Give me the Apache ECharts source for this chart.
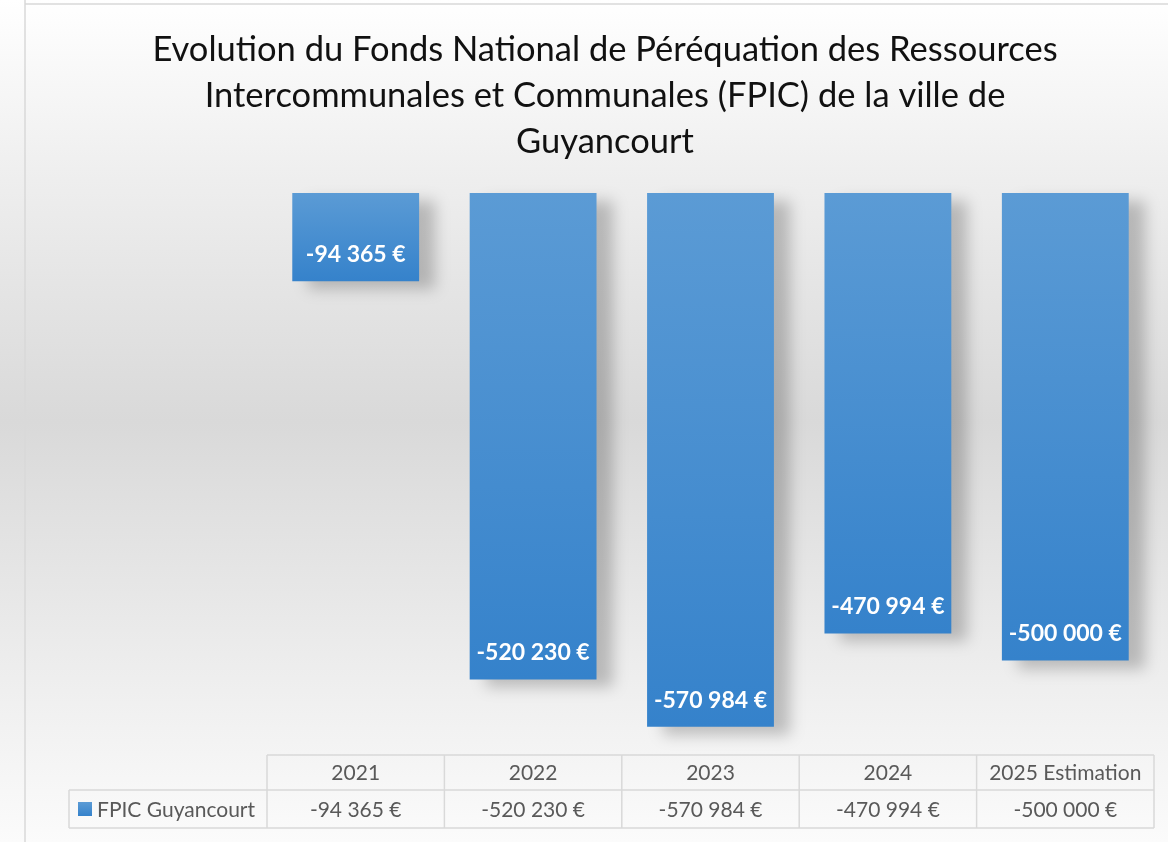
<!DOCTYPE html>
<html><head><meta charset="utf-8">
<style>html,body{margin:0;padding:0;background:#fff;}#c{width:1168px;height:842px;}</style>
<script src="https://cdn.jsdelivr.net/npm/echarts@6/dist/echarts.min.js"></script>
</head><body><div id="c"></div>
<script>
const categories = ['2021', '2022', '2023', '2024', '2025 Estimation'];
const values = [-94365, -520230, -570984, -470994, -500000];
const seriesName = 'FPIC Guyancourt';
const titleText = 'Evolution du Fonds National de Péréquation des Ressources\nIntercommunales et Communales (FPIC) de la ville de\nGuyancourt';

function fmt(v){ return String(v).replace(/\B(?=(\d{3})+(?!\d))/g, ' ') + ' €'; }

const chart = echarts.init(document.getElementById('c'));
const barGrad = new echarts.graphic.LinearGradient(0,0,0,1,[{offset:0,color:'#5b9bd5'},{offset:1,color:'#3582cb'}]);
chart.setOption({
  animation:false,
  backgroundColor: new echarts.graphic.LinearGradient(0,0,0,1,[
    {offset:0,color:'#ffffff'},{offset:0.2,color:'#efefef'},{offset:0.5,color:'#d9d9d9'},{offset:0.85,color:'#f1f1f1'},{offset:1,color:'#fbfbfb'}]),
  title:{text:titleText,left:600,top:22,textAlign:'center',
    textStyle:{fontFamily:'Lato',fontSize:34.5,fontWeight:'normal',color:'#111',lineHeight:46}},
  grid:{left:267,right:14,top:193,bottom:88},
  xAxis:{type:'category',data:categories,show:false},
  yAxis:{type:'value',min:-600000,max:0,show:false},
  series:[{type:'bar',name:seriesName,data:values,barCategoryGap:'28.5%',
    itemStyle:{color:barGrad,shadowColor:'rgba(0,0,0,0.22)',shadowBlur:14,shadowOffsetX:16,shadowOffsetY:8},
    label:{show:true,position:'insideBottom',distance:15,color:'#fff',fontFamily:'Lato',fontWeight:'bold',fontSize:23,
      formatter:p=>fmt(p.value)}}]
});

const cols = categories.map((c,i)=>chart.convertToPixel({xAxisIndex:0}, i));
const band = cols.length>1 ? cols[1]-cols[0] : 177;
const x0 = cols[0]-band/2, x1 = cols[cols.length-1]+band/2;
const yTop = 755, yMid = 790, yBot = 828, legX = 69;
const lc = '#d9d9d9', lw = 1.5;
const g = [];
function line(xa,ya,xb,yb){ g.push({type:'line',shape:{x1:xa,y1:ya,x2:xb,y2:yb},style:{stroke:lc,lineWidth:lw}}); }
line(25,0,25,842); line(25,4,1168,4);
line(x0,yTop,x1,yTop); line(legX,yMid,x1,yMid); line(legX,yBot,x1,yBot);
line(legX,yMid,legX,yBot);
for(let i=0;i<=cols.length;i++){ const x = x0 + i*band; line(x,yTop,x,yBot); }
const tf = '21px Lato';
categories.forEach((c,i)=>{
  g.push({type:'text',x:cols[i],y:(yTop+yMid)/2+1,style:{text:c,align:'center',verticalAlign:'middle',font:tf,fill:'#595959'}});
  g.push({type:'text',x:cols[i],y:(yMid+yBot)/2+1,style:{text:fmt(values[i]),align:'center',verticalAlign:'middle',font:tf,fill:'#595959'}});
});
g.push({type:'rect',shape:{x:78,y:802,width:14,height:14},style:{fill:barGrad}});
g.push({type:'text',x:97,y:(yMid+yBot)/2+1,style:{text:seriesName,align:'left',verticalAlign:'middle',font:tf,fill:'#595959'}});
chart.setOption({graphic:{elements:g}});
</script></body></html>
